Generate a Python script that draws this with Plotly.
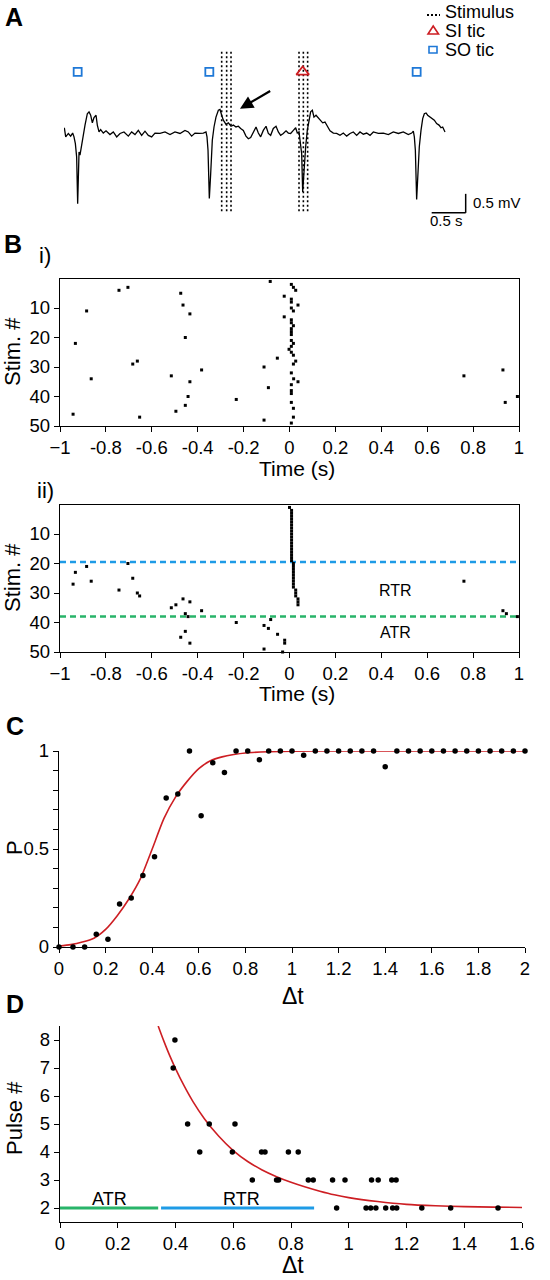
import plotly.graph_objects as go

W, H = 550, 1280
FONT = "Liberation Sans, Arial, sans-serif"

# ---------------- Panel A data (time in s, voltage in mV) ----------------
trace_t = [0.005,0.025,0.064,0.098,0.127,0.147,0.167,0.186,0.201,0.221,
           0.235,0.260,0.284,0.309,0.343,0.368,0.392,0.417,0.441,0.471,
           0.490,0.515,0.539,0.578,0.618,0.676,0.725,0.775,0.824,0.882,
           0.946,0.995,1.044,1.093,1.142,1.191,1.240,1.289,1.338,1.412,
           1.485,1.559,1.632,1.706,1.779,1.828,1.877,1.926,1.990,2.049,
           2.088,2.103,2.118,2.137,2.157,2.181,2.206,2.235,2.270,2.294,
           2.319,2.343,2.382,2.417,2.456,2.490,2.529,2.564,2.598,2.637,
           2.676,2.711,2.745,2.784,2.824,2.858,2.892,2.931,2.971,3.005,
           3.039,3.078,3.118,3.152,3.186,3.225,3.265,3.299,3.333,3.373,
           3.407,3.431,3.456,3.471,3.495,3.510,3.529,3.554,3.578,3.603,
           3.627,3.652,3.676,3.706,3.740,3.775,3.804,3.838,3.873,3.912,
           3.961,4.010,4.059,4.108,4.157,4.206,4.255,4.304,4.353,4.402,
           4.451,4.500,4.549,4.623,4.696,4.770,4.843,4.917,4.990,5.064,
           5.113,5.137,5.152,5.167,5.186,5.206,5.225,5.250,5.275,5.299,
           5.324,5.348,5.382,5.417,5.446,5.480,5.515,5.544,5.569,5.603]
trace_mv = [0.11,-0.13,-0.04,-0.11,-0.03,-0.13,-0.31,-0.66,-1.89,-0.53,
            -0.61,-0.31,0.00,0.18,0.48,0.53,0.44,0.24,0.38,0.44,
            0.18,0.00,0.06,-0.03,0.03,-0.07,0.00,-0.13,-0.04,0.00,
            -0.11,0.00,-0.07,0.04,-0.09,0.02,-0.09,-0.13,-0.03,-0.04,
            0.00,-0.07,0.00,-0.04,0.04,0.00,-0.11,-0.03,-0.04,-0.03,
            0.00,-0.13,-0.48,-1.75,-1.10,-0.22,0.13,0.39,0.57,0.59,
            0.44,0.31,0.20,0.24,0.15,0.18,0.13,0.15,0.09,0.04,
            -0.11,-0.18,-0.15,0.00,0.13,-0.03,-0.13,0.04,0.15,-0.04,
            -0.09,0.09,0.15,0.00,-0.09,-0.04,0.03,-0.03,-0.04,0.04,
            0.11,-0.03,0.00,-0.22,-0.57,-1.58,-0.92,-0.39,0.04,0.31,
            0.53,0.57,0.39,0.44,0.38,0.31,0.24,0.26,0.13,0.03,
            -0.03,-0.04,-0.09,-0.03,-0.11,-0.04,0.00,-0.09,0.00,-0.06,
            -0.03,-0.09,0.00,-0.04,-0.03,-0.07,0.00,-0.04,0.00,-0.07,
            -0.03,0.02,-0.13,-0.48,-1.78,-1.10,-0.39,0.04,0.35,0.48,
            0.50,0.44,0.39,0.35,0.31,0.22,0.18,0.11,0.13,0.00]
so_tic_t = [0.201, 2.137, 5.186]
si_tic_t = [3.510]
tic_level_mv = 1.58
stim_t = [2.319, 2.392, 2.456, 3.456, 3.520, 3.583]
stim_span_mv = [2.11, -2.15]
scale_t = [5.407, 5.907]      # 0.5 s bar
scale_mv = [-2.13, -1.63]     # 0.5 mV bar
arrow_tail = (3.054, 1.10)
arrow_head = (2.588, 0.61)

# ---------------- Panel B data (time s, stimulus #) ----------------
bi_time = [-0.743,-0.704,-0.884,-0.933,-0.683,-0.663,-0.864,-0.943,-0.653,
           -0.474,-0.464,-0.434,-0.454,-0.515,-0.434,-0.442,-0.454,-0.495,
           -0.383,-0.232,-0.111,-0.053,-0.092,-0.084,-0.111,
           0.760,0.930,0.940,0.993,
           0.008,0.017,0.027,-0.023,0.008,0.008,0.037,0.008,0.017,-0.023,
           0.008,0.008,0.017,0.008,0.008,0.008,0.008,0.017,0.008,-0.002,
           0.008,0.017,0.027,0.017,0.008,0.018,0.037,0.008,0.008,0.008,
           0.008,0.017,0.017,0.008]
bi_stim = [4,3,11,22,29,28,34,46,47,
           5,9,12,20,33,35,40,43,45,
           31,41,30,27,37,1,48,
           33,31,42,40,
           2,3,4,6,7,8,9,10,11,13,
           14,15,16,17,18,19,21,22,23,24,
           25,26,28,29,32,34,35,36,38,39,
           42,44,47,49]

bii_time = [-0.933,-0.943,-0.884,-0.864,-0.704,-0.683,-0.743,-0.663,-0.653,
            -0.515,-0.495,-0.464,-0.434,-0.454,-0.442,-0.454,-0.474,-0.434,
            -0.383,-0.232,-0.082,-0.111,-0.092,-0.052,-0.021,-0.021,-0.111,-0.030,
            0.760,0.930,0.945,0.993,
            0.000,0.009,0.009,0.009,0.009,0.009,0.009,0.009,0.009,0.009,
            0.009,0.009,0.009,0.009,0.009,0.009,0.009,0.009,0.009,0.017,
            0.017,0.017,0.017,0.017,0.017,0.017,0.017,0.017,0.027,0.027,
            0.027,0.037,0.037,0.037,0.037]
bii_stim = [23,27,21,26,20,25,29,30,31,
            35,34,32,33,37,38,43,45,47,
            36,40,39,41,42,44,46,47,49,50,
            26,36,37,38,
            1,2,3,4,5,6,7,8,9,10,
            11,12,13,14,15,16,17,18,19,20,
            21,22,23,24,25,26,27,28,29,30,
            31,32,33,34]
rtr_boundary = 19.5
atr_boundary = 38

time_ticks = [-1,-0.8,-0.6,-0.4,-0.2,0,0.2,0.4,0.6,0.8,1]
time_ticktext = ["\u22121","-0.8","-0.6","-0.4","-0.2","0","0.2","0.4","0.6","0.8","1"]
stim_ticks = [10,20,30,40,50]

# ---------------- Panel C data ----------------
c_dt = [0.0,0.06,0.11,0.16,0.21,0.26,0.31,0.36,0.41,0.46,0.51,0.56,0.61,0.66,0.71,0.76,
        0.81,0.86,0.90,0.95,1.00,1.05,1.10,1.15,1.20,1.25,1.30,1.35,1.40,1.45,1.50,
        1.55,1.60,1.65,1.70,1.75,1.80,1.85,1.90,1.95,2.00]
c_p = [0.0,0.0,0.0,0.065,0.04,0.22,0.25,0.365,0.46,0.76,0.78,1.0,0.67,0.94,0.89,1.0,
       1.0,0.955,1.0,1.0,1.0,0.978,1.0,1.0,1.0,1.0,1.0,1.0,0.92,1.0,1.0,
       1.0,1.0,1.0,1.0,1.0,1.0,1.0,1.0,1.0,1.0]
c_fit_dt = [0,0.05,0.1,0.15,0.2,0.25,0.3,0.35,0.4,0.45,0.5,0.55,0.6,0.65,0.7,0.75,0.8,0.9,1.0,1.2,1.5,2.0]
c_fit_p = [0.005,0.012,0.025,0.045,0.09,0.16,0.245,0.35,0.50,0.655,0.765,0.845,0.91,0.95,
           0.97,0.982,0.99,0.996,0.999,1.0,1.0,1.0]
c_xticks = [0,0.2,0.4,0.6,0.8,1,1.2,1.4,1.6,1.8,2]
c_xticktext = ["0","0.2","0.4","0.6","0.8","1","1.2","1.4","1.6","1.8","2"]
c_yticks = [0,0.1,0.2,0.3,0.4,0.5,0.6,0.7,0.8,0.9,1]
c_yticktext = ["0","","","","","0.5","","","","","1"]

# ---------------- Panel D data ----------------
d_dt = [0.398,0.392,0.442,0.517,0.606,0.484,0.597,0.698,0.710,0.791,0.825,
        0.666,0.750,0.757,0.860,0.877,0.944,0.987,1.079,1.102,1.149,1.164,
        0.958,1.060,1.076,1.094,1.128,1.152,1.166,1.253,1.353,1.517]
d_pulse = [8,7,5,5,5,4,4,4,4,4,4,
           3,3,3,3,3,3,3,3,3,3,3,
           2,2,2,2,2,2,2,2,2,2]
d_fit_dt = [0.34,0.36,0.38,0.40,0.43,0.46,0.50,0.55,0.60,0.65,0.70,0.75,0.80,0.85,
            0.90,0.95,1.0,1.1,1.2,1.3,1.4,1.5,1.6]
d_fit_pulse = [8.5,7.95,7.44,6.98,6.36,5.81,5.19,4.56,4.05,3.66,3.36,3.12,2.92,2.75,
               2.60,2.47,2.37,2.23,2.13,2.08,2.05,2.03,2.02]
atr_range = [0.0, 0.34]
rtr_range = [0.35, 0.88]
window_level = 2
d_xticks = [0,0.2,0.4,0.6,0.8,1,1.2,1.4,1.6]
d_xticktext = ["0","0.2","0.4","0.6","0.8","1","1.2","1.4","1.6"]
d_yticks = [2,3,4,5,6,7,8]

RED = "rgb(205,30,35)"
BLUE = "rgb(30,155,230)"
GREEN = "rgb(40,180,105)"
TIC_BLUE = "rgb(30,120,215)"


def fx(px):
    return px / W


def fy(py):
    return 1 - py / H


fig = go.Figure()

# ---- Panel A ----
fig.add_trace(go.Scatter(x=trace_t, y=trace_mv, mode="lines",
                         line=dict(color="black", width=1.3), xaxis="x", yaxis="y",
                         hoverinfo="skip"))
sx, sy = [], []
for t in stim_t:
    sx += [t, t, None]
    sy += [stim_span_mv[0], stim_span_mv[1], None]
fig.add_trace(go.Scatter(x=sx, y=sy, mode="lines",
                         line=dict(color="black", width=1.6, dash="2px,2.5px"),
                         xaxis="x", yaxis="y", hoverinfo="skip"))
fig.add_trace(go.Scatter(x=so_tic_t, y=[tic_level_mv] * len(so_tic_t), mode="markers",
                         marker=dict(symbol="square-open", size=8, color=TIC_BLUE,
                                     line=dict(width=1.8, color=TIC_BLUE)),
                         xaxis="x", yaxis="y", cliponaxis=False))
fig.add_trace(go.Scatter(x=si_tic_t, y=[tic_level_mv] * len(si_tic_t), mode="markers",
                         marker=dict(symbol="triangle-up-open", size=11, color=RED,
                                     line=dict(width=1.8, color=RED)),
                         xaxis="x", yaxis="y", cliponaxis=False))

# ---- Panel B ----
raster_marker = dict(symbol="square", size=3, color="black", line=dict(width=0))
fig.add_trace(go.Scatter(x=bi_time, y=bi_stim, mode="markers", marker=raster_marker,
                         xaxis="x2", yaxis="y2", cliponaxis=False))
fig.add_trace(go.Scatter(x=[-1, 1], y=[rtr_boundary] * 2, mode="lines",
                         line=dict(color=BLUE, width=2.5, dash="6px,4px"),
                         xaxis="x3", yaxis="y3"))
fig.add_trace(go.Scatter(x=[-1, 1], y=[atr_boundary] * 2, mode="lines",
                         line=dict(color=GREEN, width=2.5, dash="6px,4px"),
                         xaxis="x3", yaxis="y3"))
fig.add_trace(go.Scatter(x=bii_time, y=bii_stim, mode="markers", marker=raster_marker,
                         xaxis="x3", yaxis="y3", cliponaxis=False))

# ---- Panel C ----
fig.add_trace(go.Scatter(x=c_fit_dt, y=c_fit_p, mode="lines",
                         line=dict(color=RED, width=1.6, shape="spline", smoothing=0.6),
                         xaxis="x4", yaxis="y4", cliponaxis=False))
fig.add_trace(go.Scatter(x=c_dt, y=c_p, mode="markers",
                         marker=dict(size=5.5, color="black"),
                         xaxis="x4", yaxis="y4", cliponaxis=False))

# ---- Panel D ----
fig.add_trace(go.Scatter(x=atr_range, y=[window_level] * 2, mode="lines",
                         line=dict(color=GREEN, width=3), xaxis="x5", yaxis="y5"))
fig.add_trace(go.Scatter(x=rtr_range, y=[window_level] * 2, mode="lines",
                         line=dict(color=BLUE, width=3), xaxis="x5", yaxis="y5"))
fig.add_trace(go.Scatter(x=d_fit_dt, y=d_fit_pulse, mode="lines",
                         line=dict(color=RED, width=1.6, shape="spline", smoothing=0.8),
                         xaxis="x5", yaxis="y5"))
fig.add_trace(go.Scatter(x=d_dt, y=d_pulse, mode="markers",
                         marker=dict(size=5.5, color="black"),
                         xaxis="x5", yaxis="y5", cliponaxis=False))

tickfont = dict(family=FONT, size=18.5, color="black")
axis_common = dict(showline=True, linecolor="black", linewidth=1.4, ticks="outside",
                   ticklen=5, tickwidth=1.3, tickcolor="black", tickfont=tickfont,
                   showgrid=False, zeroline=False, fixedrange=True, automargin=False)

layout = dict(
    template="none",
    width=W, height=H, autosize=False, showlegend=False,
    margin=dict(l=0, r=0, t=0, b=0, pad=0),
    paper_bgcolor="white", plot_bgcolor="rgba(0,0,0,0)",
    font=dict(family=FONT, color="black"),
    xaxis=dict(domain=[fx(64), fx(472)], range=[0, 6], visible=False, anchor="y",
               fixedrange=True, automargin=False),
    yaxis=dict(domain=[fy(225), fy(40)], range=[-2.45, 2.42], visible=False, anchor="x",
               fixedrange=True, automargin=False),
    xaxis2=dict(domain=[fx(60), fx(519)], range=[-1, 1], anchor="y2", mirror=True,
                tickvals=time_ticks, ticktext=time_ticktext, **axis_common),
    yaxis2=dict(domain=[fy(426), fy(278.5)], range=[50, 0], anchor="x2", mirror=True,
                tickvals=stim_ticks, **axis_common),
    xaxis3=dict(domain=[fx(60), fx(519)], range=[-1, 1], anchor="y3", mirror=True,
                tickvals=time_ticks, ticktext=time_ticktext, **axis_common),
    yaxis3=dict(domain=[fy(652), fy(504.5)], range=[50, 0], anchor="x3", mirror=True,
                tickvals=stim_ticks, **axis_common),
    xaxis4=dict(domain=[fx(59), fx(525)], range=[0, 2], anchor="y4",
                tickvals=c_xticks, ticktext=c_xticktext, **axis_common),
    yaxis4=dict(domain=[fy(947), fy(751)], range=[0, 1], anchor="x4",
                tickvals=c_yticks, ticktext=c_yticktext, **axis_common),
    xaxis5=dict(domain=[fx(60), fx(522)], range=[0, 1.6], anchor="y5",
                tickvals=d_xticks, ticktext=d_xticktext, **axis_common),
    yaxis5=dict(domain=[fy(1222), fy(1026)], range=[1.5, 8.5], anchor="x5",
                tickvals=d_yticks, **axis_common),
)
fig.update_layout(**layout)

ann = []


def text(px, py, s, size, bold=False, angle=0, xanchor="center", color="black"):
    ann.append(dict(x=fx(px), y=fy(py), xref="paper", yref="paper", text=("<b>%s</b>" % s if bold else s),
                    showarrow=False, textangle=angle, xanchor=xanchor, yanchor="middle",
                    font=dict(family=FONT, size=size, color=color)))


# panel letters
text(14, 17, "A", 25, bold=True)
text(13, 244, "B", 25, bold=True)
text(45, 255, "i)", 22)
text(45, 490, "ii)", 22)
text(15, 726, "C", 25, bold=True)
text(15, 1004, "D", 25, bold=True)

# axis titles
text(12, 352, "Stim. #", 22, angle=-90)
text(12, 578, "Stim. #", 22, angle=-90)
text(297, 468, "Time (s)", 21)
text(297, 693, "Time (s)", 21)
text(14, 848, "P", 22, angle=-90)
text(293, 996, "\u0394t", 23)
text(14, 1118, "Pulse #", 22, angle=-90)
text(293, 1265, "\u0394t", 23)

# legend of panel A
text(443, 12, "Stimulus", 18, xanchor="left")
text(443, 31, "SI tic", 18, xanchor="left")
text(443, 50, "SO tic", 18, xanchor="left")

# scale bar labels
text(471, 203, "0.5 mV", 15, xanchor="left")
text(446, 221, "0.5 s", 15)

# arrow in panel A
ann.append(dict(x=arrow_head[0], y=arrow_head[1], ax=arrow_tail[0], ay=arrow_tail[1],
                xref="x", yref="y", axref="x", ayref="y", text="", showarrow=True,
                arrowhead=2, arrowsize=1.2, arrowwidth=2.2, arrowcolor="black"))

# RTR / ATR labels
ann.append(dict(x=0.46, y=29, xref="x3", yref="y3", text="RTR", showarrow=False,
                font=dict(family=FONT, size=16, color="black")))
ann.append(dict(x=0.46, y=43.5, xref="x3", yref="y3", text="ATR", showarrow=False,
                font=dict(family=FONT, size=16, color="black")))
ann.append(dict(x=0.17, y=window_level, xref="x5", yref="y5", yanchor="bottom", yshift=-3,
                text="ATR", showarrow=False, font=dict(family=FONT, size=18, color="black")))
ann.append(dict(x=0.63, y=window_level, xref="x5", yref="y5", yanchor="bottom", yshift=-3,
                text="RTR", showarrow=False, font=dict(family=FONT, size=18, color="black")))

fig.update_layout(annotations=ann)

# shapes: scale bar and legend symbols
shapes = [
    dict(type="line", xref="x", yref="y", x0=scale_t[0], x1=scale_t[1], y0=scale_mv[0], y1=scale_mv[0],
         line=dict(color="black", width=1.5)),
    dict(type="line", xref="x", yref="y", x0=scale_t[1], x1=scale_t[1], y0=scale_mv[0], y1=scale_mv[1],
         line=dict(color="black", width=1.5)),
    dict(type="line", xref="paper", yref="paper", x0=fx(427), x1=fx(440), y0=fy(15), y1=fy(15),
         line=dict(color="black", width=2, dash="2px,2px")),
    dict(type="path", xref="paper", yref="paper",
         path="M %f,%f L %f,%f L %f,%f Z" % (fx(428), fy(34), fx(438.5), fy(34), fx(433.2), fy(26)),
         line=dict(color=RED, width=1.6)),
    dict(type="rect", xref="paper", yref="paper", x0=fx(429), x1=fx(437), y0=fy(53), y1=fy(46.5),
         line=dict(color=TIC_BLUE, width=1.6)),
]
fig.update_layout(shapes=shapes)

fig.write_html("out.html", config={"displayModeBar": False},
               post_script="document.body.style.margin='0px';")
